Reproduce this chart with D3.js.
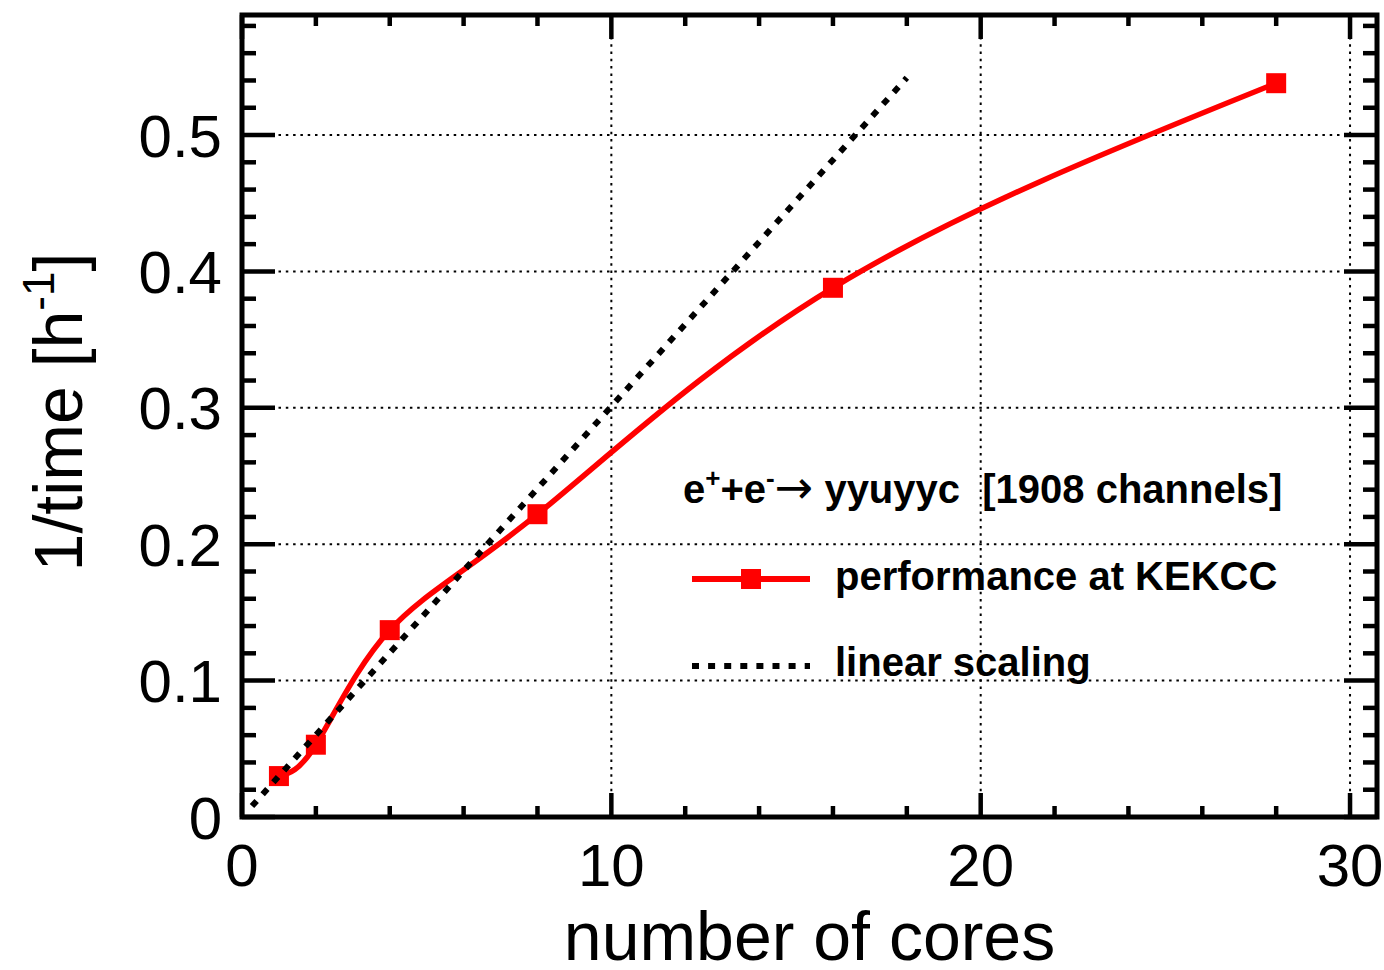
<!DOCTYPE html>
<head>
  <meta charset="utf-8">
  <title>1/time vs number of cores</title>
  <script src="https://d3js.org/d3.v7.min.js"></script>
  <style>
    body { margin: 0; background: #fff; }
    text { font-family: 'Liberation Sans', Arial, Helvetica, sans-serif; fill: #000; }
    .tick-label { font-size: 60px; }
    .axis-title { font-size: 68px; }
    .legend text { font-size: 40px; font-weight: 700; }
    .grid-line { stroke: #000; stroke-width: 2; stroke-dasharray: 2.5,4.8; }
    .frame { fill: none; stroke: #000; stroke-width: 5; }
    .tick { stroke: #000; stroke-width: 4.5; }
    .perf-line { fill: none; stroke: #ff0000; stroke-width: 5.5; }
    .lin-line { fill: none; stroke: #000; stroke-width: 6; stroke-dasharray: 7,9; }
  </style>
</head>
<body>
  <script>
    // performance at KEKCC
    var cores = [1, 2, 4, 8, 16, 28];
    var perf = [0.030, 0.053, 0.137, 0.222, 0.388, 0.538];
    // linear scaling (end points of the drawn line)
    var linCores = [0.27, 18];
    var linPerf = [0.008, 0.542];

    var xTicks = [0, 10, 20, 30];
    var yTicks = [0, 0.1, 0.2, 0.3, 0.4, 0.5];
    var yTickLabels = ["0", "0.1", "0.2", "0.3", "0.4", "0.5"];

    var W = 1384, H = 970;
    var pl = 242, pr = 1377, pt = 15, pb = 817;

    var svg = d3.select("body").append("svg")
      .attr("width", W).attr("height", H);

    var x = d3.scaleLinear().domain([0, 30.73]).range([pl, pr]);
    var y = d3.scaleLinear().domain([0, 0.588]).range([pb, pt]);

    // grid
    var grid = svg.append("g");
    grid.selectAll(".gx").data(xTicks.filter(d => d > 0))
      .enter().append("line")
        .attr("class", "grid-line")
        .attr("x1", d => x(d)).attr("x2", d => x(d))
        .attr("y1", pt).attr("y2", pb);
    grid.selectAll(".gy").data(yTicks.filter(d => d > 0))
      .enter().append("line")
        .attr("class", "grid-line")
        .attr("x1", pl).attr("x2", pr)
        .attr("y1", d => y(d)).attr("y2", d => y(d));

    // ticks on all four sides
    var xMinor = d3.range(0, 30.8, 2);
    var yMinor = d3.range(0, 0.5881, 0.02);
    var tk = svg.append("g");
    xMinor.forEach(function(v) {
      var major = Math.abs(v % 10) < 1e-6;
      var len = major ? 24 : 11;
      tk.append("line").attr("class", "tick")
        .attr("x1", x(v)).attr("x2", x(v)).attr("y1", pb).attr("y2", pb - len);
      tk.append("line").attr("class", "tick")
        .attr("x1", x(v)).attr("x2", x(v)).attr("y1", pt).attr("y2", pt + len);
    });
    yMinor.forEach(function(v, i) {
      var major = i % 5 === 0;
      var len = major ? 33 : 14;
      tk.append("line").attr("class", "tick")
        .attr("x1", pl).attr("x2", pl + len).attr("y1", y(v)).attr("y2", y(v));
      tk.append("line").attr("class", "tick")
        .attr("x1", pr).attr("x2", pr - len).attr("y1", y(v)).attr("y2", y(v));
    });

    // tick labels
    svg.append("g").selectAll("text").data(xTicks)
      .enter().append("text")
        .attr("class", "tick-label")
        .attr("text-anchor", "middle")
        .attr("x", d => x(d)).attr("y", 886)
        .text(d => d);
    svg.append("g").selectAll("text").data(yTicks)
      .enter().append("text")
        .attr("class", "tick-label")
        .attr("text-anchor", "end")
        .attr("x", pl - 20).attr("y", d => y(d))
        .attr("dy", "0.36em")
        .text((d, i) => yTickLabels[i]);

    // axis titles
    svg.append("text")
      .attr("class", "axis-title")
      .attr("text-anchor", "middle")
      .attr("x", (pl + pr) / 2).attr("y", 960)
      .text("number of cores");
    var yt = svg.append("text")
      .attr("class", "axis-title")
      .attr("text-anchor", "middle")
      .attr("transform", "translate(82," + ((pt + pb) / 2 - 4) + ") rotate(-90)");
    yt.append("tspan").text("1/time [h");
    yt.append("tspan").attr("dy", -28).style("font-size", "44px").text("-1");
    yt.append("tspan").attr("dy", 28).text("]");

    // data
    var perfData = cores.map((c, i) => [c, perf[i]]);
    var line = d3.line().x(d => x(d[0])).y(d => y(d[1])).curve(d3.curveNatural);
    svg.append("path")
      .attr("class", "perf-line")
      .attr("d", line(perfData));
    svg.append("g").selectAll("rect").data(perfData)
      .enter().append("rect")
        .attr("x", d => x(d[0]) - 10).attr("y", d => y(d[1]) - 10)
        .attr("width", 20).attr("height", 20)
        .attr("fill", "#ff0000");

    var linData = linCores.map((c, i) => [c, linPerf[i]]);
    svg.append("path")
      .attr("class", "lin-line")
      .attr("d", d3.line().x(d => x(d[0])).y(d => y(d[1]))(linData));

    // legend
    var lg = svg.append("g").attr("class", "legend");
    var t1 = lg.append("text").attr("x", 683).attr("y", 503);
    t1.append("tspan").text("e");
    t1.append("tspan").attr("dy", -16).style("font-size", "26px").text("+");
    t1.append("tspan").attr("dy", 16).text("+e");
    t1.append("tspan").attr("dy", -16).style("font-size", "26px").text("-");
    t1.append("tspan").attr("dy", 16)
      .style("font-weight", 400).style("font-family", "'DejaVu Sans', sans-serif")
      .style("font-size", "46px").text("\u2192");
    t1.append("tspan").text(" yyuyyc \u00a0[1908 channels]");

    lg.append("line")
      .attr("x1", 692).attr("x2", 810).attr("y1", 579).attr("y2", 579)
      .attr("stroke", "#ff0000").attr("stroke-width", 6);
    lg.append("rect")
      .attr("x", 741).attr("y", 569).attr("width", 20).attr("height", 20)
      .attr("fill", "#ff0000");
    lg.append("text").attr("x", 835).attr("y", 590).text("performance at KEKCC");

    lg.append("line")
      .attr("x1", 692).attr("x2", 810).attr("y1", 666).attr("y2", 666)
      .attr("stroke", "#000").attr("stroke-width", 6).attr("stroke-dasharray", "7,9.1");
    lg.append("text").attr("x", 835).attr("y", 676).text("linear scaling");

    // frame
    svg.append("rect")
      .attr("class", "frame")
      .attr("x", pl).attr("y", pt)
      .attr("width", pr - pl).attr("height", pb - pt);
  </script>
</body>
